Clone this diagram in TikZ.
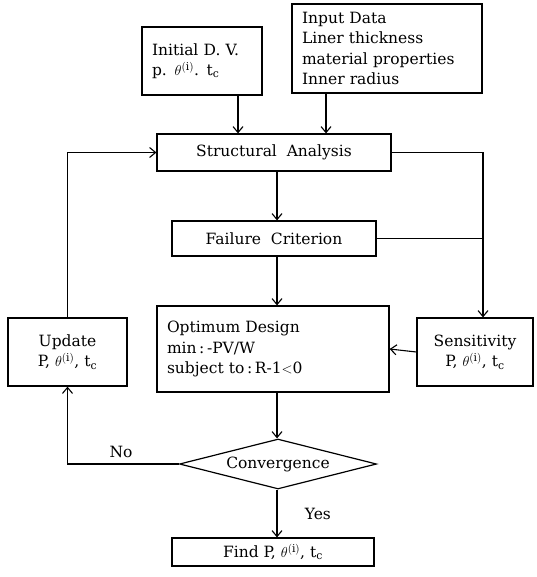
\documentclass[tikz,border=0pt]{standalone}
\usepackage{fontspec}
\setmainfont{DejaVu Serif}
\usepackage{amsmath}
\usetikzlibrary{arrows.meta,shapes.geometric}

\tikzset{
  box/.style={draw, line width=1.2pt, inner sep=3pt, font=\fontsize{15.5}{20.5}\selectfont},
  flow/.style={line width=1.1pt, -{Straight Barb[length=6pt,width=10pt]}},
  line/.style={line width=1.1pt}
}
\newcommand{\thi}{$\theta^{(\mathrm{i})}$}
\newcommand{\tc}{t$_\mathrm{c}$}

\begin{document}
\begin{tikzpicture}[x=1pt,y=-1pt]
\useasboundingbox (0,0) rectangle (536,577);

\node (init) [box, minimum width=120pt, minimum height=68pt, text width=100pt, align=left] at (202,61)
  {Initial D. V.\\ p. \thi. \tc};
\node (input) [box, minimum width=190pt, minimum height=89pt, text width=170pt, align=left] at (387,48.5)
  {Input Data\\ Liner thickness\\ material properties\\ Inner radius};
\node (sa) [box, minimum width=234pt, minimum height=37pt] at (274,152.5) {Structural\ \ Analysis};
\node (fc) [box, minimum width=204pt, minimum height=35pt] at (274,238.5) {Failure\ \ Criterion};
\node (opt) [box, minimum width=232pt, minimum height=86pt, text width=212pt, align=left] at (273,349)
  {Optimum Design\\ min\,:\,-PV/W\\ subject to\,:\,R-1$<$0};
\node (sens) [box, minimum width=116pt, minimum height=68pt, align=center] at (475,352)
  {Sensitivity\\ P, \thi, \tc};
\node (upd) [box, minimum width=119pt, minimum height=68pt, align=center] at (67.5,352)
  {Update\\ P, \thi, \tc};
\node (conv) [draw, line width=1.2pt, diamond, aspect=4, minimum width=197pt, minimum height=50pt,
  inner sep=0pt, font=\fontsize{15.5}{20.5}\selectfont] at (278,464) {Convergence};
\node (find) [box, minimum width=202pt, minimum height=28pt] at (273,552) {Find P, \thi, \tc};

% inputs
\coordinate (a1) at ([xshift=36pt]init.south);
\draw[flow] (a1) -- (a1 |- sa.north);
\coordinate (a2) at ([xshift=-61pt]input.south);
\draw[flow] (a2) -- (a2 |- sa.north);

% main chain
\coordinate (m1) at ([xshift=3pt]sa.south);
\draw[flow] (m1) -- (m1 |- fc.north);
\draw[flow] (m1 |- fc.south) -- (m1 |- opt.north);
\draw[flow] (m1 |- opt.south) -- (m1 |- conv.north);
\draw[flow] (m1 |- conv.south) -- node[right=24pt, font=\fontsize{15.5}{20.5}\selectfont] {Yes} (m1 |- find.north);

% sensitivity branch
\coordinate (s1) at ([xshift=8pt]sens.north);
\draw[flow] (sa.east) -| (s1);
\draw[line] (fc.east) -- (fc.east -| s1);
\draw[flow] (sens.west) -- (opt.east);

% loop back
\draw[flow] (conv.west) -| node[pos=0.26, above=2pt, font=\fontsize{15.5}{20.5}\selectfont] {No} (upd.south);
\draw[flow] (upd.north) |- (sa.west);
\end{tikzpicture}
\end{document}
